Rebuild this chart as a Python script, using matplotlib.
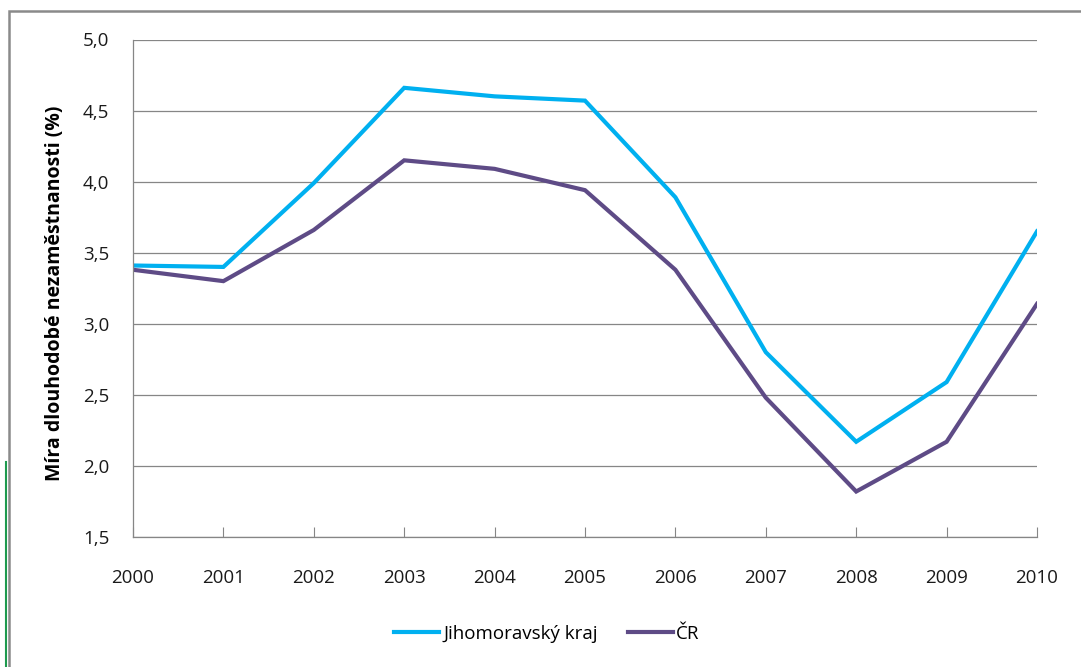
import matplotlib.pyplot as plt
from matplotlib.ticker import FuncFormatter
from matplotlib.patches import Rectangle
from matplotlib.lines import Line2D

years = [2000, 2001, 2002, 2003, 2004, 2005, 2006, 2007, 2008, 2009, 2010]
jihomoravsky = [3.41, 3.40, 3.99, 4.66, 4.60, 4.57, 3.89, 2.80, 2.17, 2.59, 3.65]
cr = [3.38, 3.30, 3.66, 4.15, 4.09, 3.94, 3.38, 2.48, 1.82, 2.17, 3.14]

labels = ['Jihomoravský kraj', 'ČR']
colors = ['#00B0F0', '#5E4B86']

plt.rcParams['font.family'] = ['Open Sans', 'DejaVu Sans']

fig = plt.figure(figsize=(10.81, 6.67), dpi=100)
ax = fig.add_axes([133 / 1081, 1 - 537 / 667, (1037 - 133) / 1081, (537 - 39.5) / 667])

ax.plot(years, jihomoravsky, color=colors[0], lw=3, label=labels[0], solid_joinstyle='miter')
ax.plot(years, cr, color=colors[1], lw=3, label=labels[1], solid_joinstyle='miter')

ax.set_xlim(2000, 2010)
ax.set_ylim(1.5, 5.0)
ax.set_xticks(years)
ax.set_yticks([1.5, 2.0, 2.5, 3.0, 3.5, 4.0, 4.5, 5.0])
ax.yaxis.set_major_formatter(FuncFormatter(lambda v, p: f'{v:.1f}'.replace('.', ',')))
ax.grid(axis='y', color='#868686', lw=0.9)
ax.set_axisbelow(True)

for s in ['top', 'right']:
    ax.spines[s].set_visible(False)
for s in ['left', 'bottom']:
    ax.spines[s].set_color('#868686')
    ax.spines[s].set_linewidth(0.9)

ax.tick_params(axis='x', direction='in', length=7, color='#868686', labelsize=13.5, pad=23, labelcolor='#1a1a1a')
ax.tick_params(axis='y', length=0, labelsize=13.5, pad=17, labelcolor='#1a1a1a')

ax.set_ylabel('Míra dlouhodobé nezaměstnanosti (%)', fontsize=14, fontweight='bold', va='center')
ax.yaxis.set_label_coords((55 - 133) / 904, 0.49)

handles = [Line2D([], [], color=c, lw=3) for c in colors]
fig.legend(handles, labels, loc='center', bbox_to_anchor=(547 / 1081, 1 - 634 / 667),
           ncol=2, frameon=False, fontsize=13.5, handlelength=2.4, handletextpad=0.2,
           columnspacing=1.6)

# outer chart frame and the green edge on the left
fig.patches.append(Rectangle((9 / 1081, -0.1), 1.2, 1 - 11 / 667 + 0.1, transform=fig.transFigure,
                             fill=False, edgecolor='#8a8a8a', lw=1.8))
fig.add_artist(Line2D([6 / 1081, 6 / 1081], [0, 1 - 462 / 667], transform=fig.transFigure,
                      color='#1E9A4E', lw=1.5))

fig.savefig('out.png', dpi=100)
